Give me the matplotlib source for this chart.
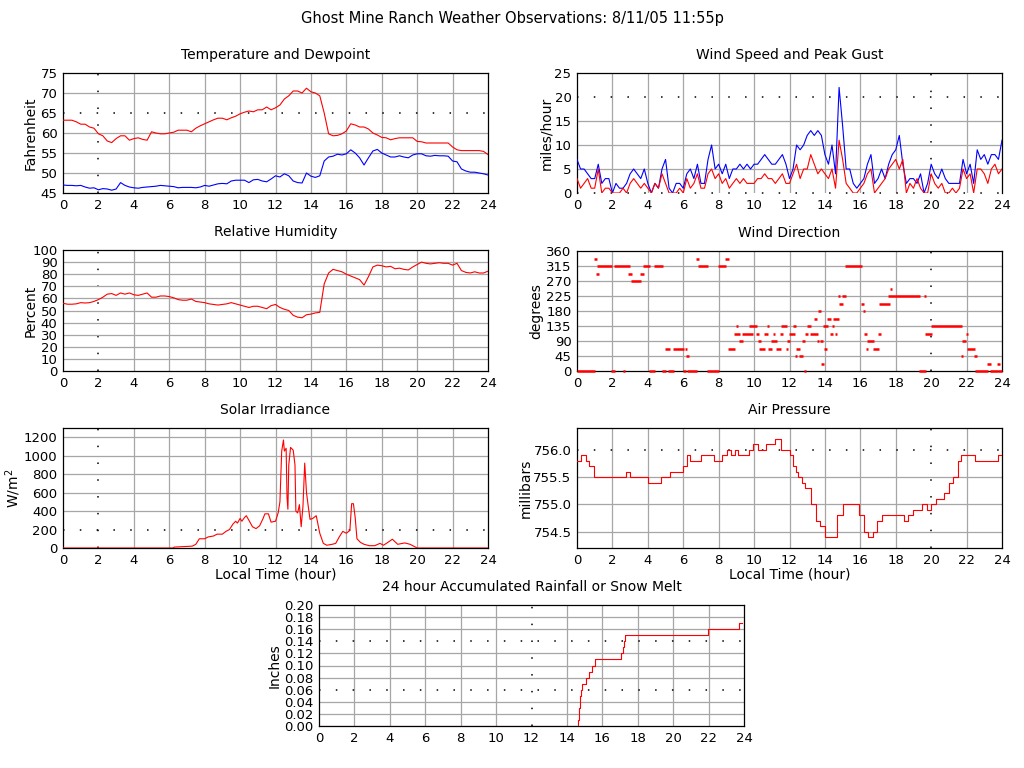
import numpy as np
import matplotlib
matplotlib.use("Agg")
import matplotlib.pyplot as plt
from matplotlib.ticker import FormatStrFormatter

plt.rcParams['font.family'] = ['DejaVu Sans']

TITLE = "Ghost Mine Ranch Weather Observations: 8/11/05 11:55p"

# quarter-hour readings, 0:00 .. 24:00
hours_q = np.arange(97) * 0.25
temperature = [
    63.2, 63.2, 63.2, 62.8, 62.2, 62.2, 61.5, 61.2, 59.8, 59.3, 58.0, 57.6,
    58.6, 59.3, 59.3, 58.2, 58.6, 58.8, 58.4, 58.2, 60.3, 60.0, 59.8, 59.8,
    60.0, 60.2, 60.7, 60.7, 60.7, 60.3, 61.2, 61.8, 62.3, 62.8, 63.3, 63.7,
    63.7, 63.3, 63.8, 64.2, 64.8, 65.2, 65.5, 65.3, 65.8, 65.8, 66.5, 65.8,
    66.3, 67.0, 68.5, 69.3, 70.5, 70.5, 70.0, 71.2, 70.3, 70.0, 69.3, 65.0,
    59.8, 59.3, 59.4, 59.8, 60.5, 62.3, 62.0, 61.5, 61.5, 61.0, 60.0, 59.5,
    58.9, 58.8, 58.3, 58.6, 58.8, 58.8, 58.8, 58.8, 57.9, 57.8, 57.5, 57.5,
    57.5, 57.5, 57.5, 57.5, 56.5, 55.8, 55.6, 55.6, 55.6, 55.6, 55.6, 55.4,
    54.6]
dewpoint = [
    47.0, 46.9, 46.9, 46.8, 46.9, 46.5, 46.2, 46.3, 45.8, 46.1, 46.0, 45.7,
    46.0, 47.6, 46.9, 46.5, 46.3, 46.2, 46.4, 46.5, 46.6, 46.7, 46.9, 46.8,
    46.7, 46.6, 46.3, 46.4, 46.4, 46.4, 46.3, 46.5, 46.9, 46.7, 47.0, 47.3,
    47.4, 47.3, 48.0, 48.2, 48.2, 48.2, 47.6, 48.3, 48.4, 48.0, 47.8, 48.5,
    49.3, 49.0, 49.8, 49.3, 48.0, 47.6, 47.5, 50.0, 49.2, 48.9, 49.3, 53.0,
    54.0, 54.2, 54.7, 54.5, 54.8, 55.8, 55.0, 53.8, 52.0, 53.8, 55.5, 55.9,
    55.0, 54.5, 54.0, 54.0, 54.3, 54.0, 53.8, 54.5, 54.8, 54.8, 54.3, 54.2,
    54.4, 54.3, 54.3, 54.2, 53.0, 52.8, 51.0, 50.5, 50.2, 50.2, 50.0, 49.8,
    49.5]
humidity = [
    56.0, 55.2, 55.2, 55.5, 56.5, 56.2, 56.5, 57.5, 59.0, 61.0, 63.5, 64.0,
    62.5, 64.5, 63.5, 64.5, 63.0, 62.5, 63.5, 64.5, 61.0, 61.0, 62.0, 62.0,
    61.5, 60.5, 59.0, 58.5, 58.5, 59.5, 57.5, 57.0, 56.5, 55.5, 55.0, 54.5,
    55.0, 55.5, 56.5, 55.5, 54.5, 53.5, 52.5, 53.5, 53.5, 52.5, 51.5, 54.0,
    55.0, 52.5, 51.0, 50.0, 46.0, 44.5, 44.0, 46.5, 47.0, 48.0, 48.5, 72.0,
    81.0, 84.0, 83.0, 82.0, 80.0, 78.5, 77.0, 75.5, 71.0, 78.0, 86.0, 87.5,
    87.0, 86.0, 86.5, 84.5, 85.0, 84.0, 83.5, 86.0, 88.0, 90.0, 89.0, 88.5,
    89.0, 89.5, 89.0, 89.0, 87.5, 89.0, 83.0, 81.5, 81.0, 82.0, 81.0, 81.0,
    82.5]

# wind every 12 minutes
hours_w = np.arange(121) * 0.2
wind_gust = [
    7, 5, 5, 4, 3, 3, 6, 2, 3, 3, 0, 2, 1, 1, 2, 4, 5, 4, 3, 5,
    2, 0, 2, 1, 5, 7, 1, 0, 2, 2, 1, 4, 5, 3, 6, 2, 2, 7, 10, 5,
    6, 4, 6, 3, 5, 5, 6, 5, 6, 5, 6, 6, 7, 8, 7, 6, 6, 7, 8, 6,
    3, 5, 10, 9, 10, 12, 13, 12, 13, 12, 8, 6, 10, 4, 22, 14, 5, 5, 2, 1,
    2, 3, 6, 8, 2, 3, 5, 3, 6, 8, 9, 12, 6, 2, 3, 3, 2, 4, 0, 2,
    6, 4, 3, 5, 3, 2, 2, 2, 2, 7, 4, 6, 2, 9, 7, 8, 6, 8, 8, 7,
    11]
wind_avg = [
    3, 1, 2, 3, 1, 1, 5, 0, 1, 1, 0, 0, 0, 1, 0, 2, 3, 2, 1, 2,
    1, 0, 2, 1, 4, 2, 0, 0, 0, 1, 0, 3, 1, 2, 4, 1, 1, 4, 5, 3,
    4, 2, 3, 1, 2, 3, 2, 3, 2, 2, 2, 3, 3, 4, 3, 3, 2, 3, 4, 2,
    2, 4, 6, 3, 5, 5, 8, 6, 4, 5, 4, 3, 5, 1, 11, 7, 2, 1, 0, 0,
    1, 2, 4, 5, 0, 1, 2, 3, 5, 6, 7, 5, 7, 0, 2, 1, 3, 1, 0, 0,
    4, 2, 1, 2, 0, 0, 1, 0, 1, 5, 3, 4, 0, 5, 5, 4, 2, 5, 6, 4,
    5]

# wind direction runs: start hour, end hour, direction
dir_start = [
    0.0, 0.98, 1.09, 1.15, 1.92, 2.11, 2.6, 2.9, 3.07, 3.58, 3.75, 4.09,
    4.37, 4.82, 4.97, 5.16, 5.44, 5.99, 6.1, 6.16, 6.21, 6.74, 6.84, 7.36,
    7.94, 8.34, 8.51, 8.85, 8.96, 9.13, 9.3, 9.7, 10.09, 10.2, 10.26, 10.54,
    10.71, 10.77, 10.94, 11.05, 11.22, 11.45, 11.5, 11.79, 11.84, 11.95,
    12.18, 12.29, 12.35, 12.52, 12.69, 12.8, 12.86, 12.97, 13.14, 13.37,
    13.54, 13.59, 13.71, 13.76, 13.88, 13.93, 14.1, 14.27, 14.38, 14.44,
    14.55, 14.72, 14.78, 14.95, 15.12, 16.02, 16.13, 16.19, 16.3, 16.36,
    16.7, 17.02, 17.08, 17.59, 17.68, 19.32, 19.6, 19.66, 20.0, 21.69,
    21.75, 21.94, 22.0, 22.43, 22.5, 23.16, 23.3, 23.73, 23.79]
dir_end = [
    1.04, 1.13, 1.26, 1.98, 2.17, 2.99, 2.71, 3.13, 3.63, 3.8, 4.14, 4.43,
    4.88, 5.05, 5.27, 5.5, 6.06, 6.18, 6.21, 6.33, 6.78, 6.89, 7.42, 8.0,
    8.4, 8.57, 8.9, 9.19, 9.07, 9.36, 9.92, 10.15, 10.26, 10.37, 10.6, 10.77,
    10.82, 10.99, 11.28, 11.16, 11.5, 11.62, 11.84, 11.9, 12.0, 12.29,
    12.35, 12.41, 12.58, 12.75, 12.86, 12.92, 13.03, 13.2, 13.59, 13.54,
    13.65, 13.76, 13.88, 13.93, 14.16, 14.1, 14.33, 14.44, 14.5, 14.78,
    14.67, 14.84, 15.0, 15.17, 16.08, 16.19, 16.25, 16.36, 16.42, 16.76,
    17.08, 17.19, 17.65, 19.38, 17.8, 19.68, 19.72, 20.06, 21.73, 21.81,
    21.98, 22.09, 22.49, 22.6, 23.2, 23.39, 23.79, 23.9, 24.0]
dir_deg = [
    0, 337.5, 292.5, 315, 0, 315, 0, 292.5, 270, 292.5, 315, 0,
    315, 0, 67.5, 0, 67.5, 0, 67.5, 45, 0, 337.5, 315, 0,
    315, 337.5, 67.5, 112.5, 135, 90, 112.5, 135, 112.5, 90, 67.5, 112.5,
    135, 67.5, 90, 112.5, 67.5, 112.5, 135, 67.5, 90, 112.5,
    135, 45, 67.5, 45, 90, 0, 112.5, 135, 112.5, 157.5,
    90, 180, 90, 22.5, 135, 67.5, 157.5, 112.5, 135, 157.5,
    112.5, 225, 202.5, 225, 315, 202.5, 180, 112.5, 67.5, 90,
    67.5, 112.5, 202.5, 225, 247.5, 0, 225, 112.5, 135, 45,
    90, 112.5, 67.5, 45, 0, 22.5, 0, 22.5, 0]

solar_hours = [
    0, 6.2, 6.3, 6.8, 7.3, 7.5, 7.7, 8.0, 8.2, 8.5, 8.7, 9.0, 9.2, 9.4, 9.6,
    9.75, 9.85, 10.0, 10.1, 10.25, 10.35, 10.5, 10.7, 10.9, 11.1, 11.3, 11.4,
    11.6, 11.75, 12.0, 12.15, 12.25, 12.35, 12.45, 12.5, 12.6, 12.65, 12.7,
    12.75, 12.85, 13.0, 13.1, 13.15, 13.25, 13.35, 13.45, 13.55, 13.65, 13.75,
    13.85, 13.95, 14.1, 14.3, 14.5, 14.7, 14.9, 15.2, 15.4, 15.6, 15.8, 16.0,
    16.2, 16.3, 16.4, 16.5, 16.6, 16.8, 17.0, 17.3, 17.6, 17.9, 18.1, 18.3,
    18.6, 18.9, 19.3, 19.6, 20.0, 24]
solar = [
    0, 0, 10, 15, 20, 40, 100, 100, 120, 130, 150, 150, 180, 200, 260,
    290, 270, 320, 290, 330, 350, 300, 230, 210, 240, 320, 370,
    370, 280, 290, 380, 500, 1050, 1170, 1050, 1080, 550, 420,
    900, 1090, 1060, 900, 400, 380, 470, 230, 450, 920, 600,
    450, 310, 320, 350, 160, 50, 30, 40, 50, 120, 180, 160,
    190, 480, 480, 330, 100, 60, 40, 25, 25, 50, 30, 55,
    95, 40, 55, 40, 0, 0]

pressure_hours = [
    0, 0.25, 0.5, 0.7, 0.95, 2.75, 3.0, 4.0, 4.75, 5.25, 6.0, 6.2, 6.4, 7.0,
    7.75, 8.2, 8.45, 8.7, 8.9, 9.1, 9.7, 9.95, 10.2, 10.7, 11.2, 11.5, 12.0,
    12.2, 12.35, 12.5, 12.7, 12.9, 13.2, 13.5, 13.7, 14.0, 14.7, 15.0, 15.95,
    16.2, 16.45, 16.7, 16.95, 17.2, 18.45, 18.7, 19.0, 19.5, 19.75, 20.0,
    20.3, 20.7, 21.0, 21.25, 21.5, 21.7, 22.5, 23.75, 24]
pressure = [
    755.8, 755.9, 755.8, 755.7, 755.5, 755.6, 755.5, 755.4, 755.5, 755.6,
    755.7, 755.9, 755.8, 755.9, 755.8, 755.9, 756.0, 755.9, 756.0, 755.9,
    756.0, 756.1, 756.0, 756.1, 756.2, 756.0, 755.9, 755.7, 755.6, 755.5,
    755.4, 755.3, 755.0, 754.7, 754.6, 754.4, 754.8, 755.0, 754.8, 754.5,
    754.4, 754.5, 754.7, 754.8, 754.7, 754.8, 754.9, 755.0, 754.9, 755.0,
    755.1, 755.2, 755.4, 755.5, 755.8, 755.9, 755.8, 755.9, 755.9]

rain_hours = [0, 14.65, 14.7, 14.75, 14.8, 14.85, 15.05, 15.25, 15.4, 15.6,
              17.05, 17.15, 17.22, 17.3, 21.95, 23.7, 23.9]
rain = [0, 0.01, 0.03, 0.05, 0.06, 0.07, 0.08, 0.09, 0.10, 0.11,
        0.12, 0.13, 0.14, 0.15, 0.16, 0.17, 0.17]

RED = '#ff0000'
BLUE = '#0000ff'
GRID = '#a6a6a6'
LW = 0.8
DOTS = (0, (1, 10))

fig = plt.figure(figsize=(10.24, 7.68), dpi=100)
fig.text(0.5, 1 - 18 / 768, TITLE, ha='center', va='center', fontsize=10.5)


def add_axes(left, top, right, bottom):
    return fig.add_axes([left / 1024, 1 - bottom / 768,
                         (right - left) / 1024, (bottom - top) / 768])


def style(ax, title, ylabel, yticks, ylim, label_px, dotted_x=(), dotted_y=(),
          fmt=None):
    ax.set_xlim(0, 24)
    ax.set_ylim(*ylim)
    ax.set_xticks(range(0, 25, 2))
    ax.set_yticks(yticks)
    if fmt:
        ax.yaxis.set_major_formatter(FormatStrFormatter(fmt))
    ax.tick_params(length=0, labelsize=9.5, pad=4)
    for x in range(2, 24, 2):
        if x in dotted_x:
            ax.axvline(x, color='k', lw=1.1, ls=DOTS, zorder=1)
        else:
            ax.axvline(x, color=GRID, lw=0.9, zorder=1)
    for y in yticks:
        if y <= ylim[0] + 1e-9 or y >= ylim[1] - 1e-9:
            continue
        if any(np.isclose(y, d) for d in dotted_y):
            ax.axhline(y, color='k', lw=1.1, ls=DOTS, zorder=1)
        else:
            ax.axhline(y, color=GRID, lw=0.9, zorder=1)
    ax.set_title(title, fontsize=10, pad=10)
    ax.set_ylabel(ylabel, fontsize=10)
    ax.yaxis.set_label_coords(-label_px / 425, 0.5)
    for s in ax.spines.values():
        s.set_linewidth(0.9)


# Temperature and dewpoint
ax = add_axes(63, 73, 488, 193)
ax.plot(hours_q, temperature, color=RED, lw=LW, zorder=3)
ax.plot(hours_q, dewpoint, color=BLUE, lw=LW, zorder=3)
style(ax, 'Temperature and Dewpoint', 'Fahrenheit', range(45, 76, 5), (45, 75),
      25, dotted_x=(2,), dotted_y=(65,))

# Wind speed and gust
ax = add_axes(577, 73, 1002, 193)
ax.plot(hours_w, wind_gust, color=BLUE, lw=LW, zorder=3)
ax.plot(hours_w, wind_avg, color=RED, lw=LW, zorder=3)
style(ax, 'Wind Speed and Peak Gust', 'miles/hour', range(0, 26, 5), (0, 25),
      24, dotted_x=(20,), dotted_y=(20,))
ax.spines['bottom'].set_visible(False)
ax.axhline(0, color='k', lw=1.1, ls=DOTS, zorder=1, clip_on=False)

# Relative humidity
ax = add_axes(63, 250, 488, 371)
ax.plot(hours_q, humidity, color=RED, lw=LW, zorder=3)
style(ax, 'Relative Humidity', 'Percent', range(0, 101, 10), (0, 100),
      25, dotted_x=(2,))

# Wind direction
ax = add_axes(577, 251, 1002, 371)
ax.hlines(dir_deg, dir_start, dir_end, color=RED, lw=1.8, zorder=3,
          clip_on=False)
style(ax, 'Wind Direction', 'degrees', range(0, 361, 45), (0, 360),
      34, dotted_x=(20,))

# Solar irradiance
ax = add_axes(63, 428, 488, 548)
ax.plot(solar_hours, solar, color=RED, lw=LW, zorder=3)
style(ax, 'Solar Irradiance', 'W/m$^2$', range(0, 1201, 200), (0, 1300),
      40, dotted_x=(2,), dotted_y=(200,))
ax.set_xlabel('Local Time (hour)', fontsize=10)
ax.xaxis.set_label_coords(0.5, -20 / 120)

# Air pressure
ax = add_axes(577, 428, 1002, 548)
ax.plot(pressure_hours, pressure, color=RED, lw=LW, zorder=3,
        drawstyle='steps-post')
style(ax, 'Air Pressure', 'millibars', [754.5, 755.0, 755.5, 756.0],
      (754.2, 756.4), 44, dotted_x=(20,), dotted_y=(756.0,), fmt='%.1f')
ax.set_xlabel('Local Time (hour)', fontsize=10)
ax.xaxis.set_label_coords(0.5, -20 / 120)

# Accumulated rainfall
ax = add_axes(319, 605, 744, 726)
ax.plot(rain_hours, rain, color=RED, lw=LW, zorder=3, drawstyle='steps-post')
style(ax, '24 hour Accumulated Rainfall or Snow Melt', 'Inches',
      np.arange(0, 0.201, 0.02), (0, 0.20), 37, dotted_x=(12,),
      dotted_y=(0.14, 0.06), fmt='%.2f')

fig.savefig('out.png', dpi=100)
